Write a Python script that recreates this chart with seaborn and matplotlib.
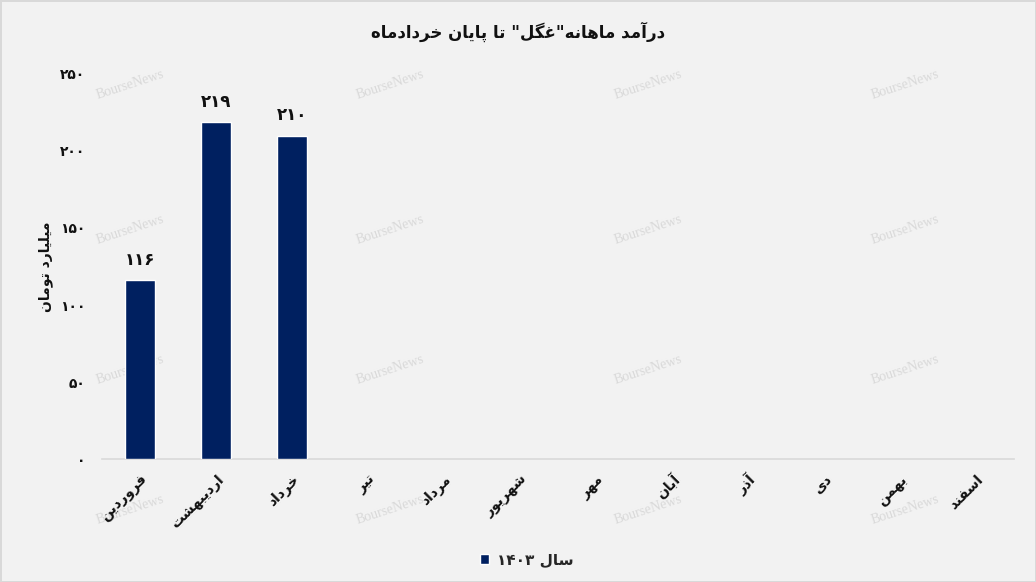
import matplotlib
matplotlib.use("Agg")
import matplotlib.pyplot as plt
import matplotlib.transforms as mtrans
import seaborn as sns
import pandas as pd

# data
months = ["فروردین", "اردیبهشت", "خرداد", "تیر", "مرداد", "شهریور",
          "مهر", "آبان", "آذر", "دی", "بهمن", "اسفند"]
values = [116, 219, 210]
y_ticks = [0, 50, 100, 150, 200, 250]
title_text = 'درآمد ماهانه"غگل" تا پایان خردادماه'
ylabel_text = "میلیارد تومان"
legend_text = "سال 1403"

# isolated, final, initial, medial
FORMS = {
    "ا": ("\uFE8D", "\uFE8E", None, None),
    "آ": ("\uFE81", "\uFE82", None, None),
    "ب": ("\uFE8F", "\uFE90", "\uFE91", "\uFE92"),
    "پ": ("\uFB56", "\uFB57", "\uFB58", "\uFB59"),
    "ت": ("\uFE95", "\uFE96", "\uFE97", "\uFE98"),
    "خ": ("\uFEA5", "\uFEA6", "\uFEA7", "\uFEA8"),
    "د": ("\uFEA9", "\uFEAA", None, None),
    "ذ": ("\uFEAB", "\uFEAC", None, None),
    "ر": ("\uFEAD", "\uFEAE", None, None),
    "س": ("\uFEB1", "\uFEB2", "\uFEB3", "\uFEB4"),
    "ش": ("\uFEB5", "\uFEB6", "\uFEB7", "\uFEB8"),
    "غ": ("\uFECD", "\uFECE", "\uFECF", "\uFED0"),
    "ف": ("\uFED1", "\uFED2", "\uFED3", "\uFED4"),
    "گ": ("\uFB92", "\uFB93", "\uFB94", "\uFB95"),
    "ل": ("\uFEDD", "\uFEDE", "\uFEDF", "\uFEE0"),
    "م": ("\uFEE1", "\uFEE2", "\uFEE3", "\uFEE4"),
    "ن": ("\uFEE5", "\uFEE6", "\uFEE7", "\uFEE8"),
    "ه": ("\uFEE9", "\uFEEA", "\uFEEB", "\uFEEC"),
    "و": ("\uFEED", "\uFEEE", None, None),
    "ی": ("\uFBFC", "\uFBFD", "\uFBFE", "\uFBFF"),
}
FA_DIGITS = str.maketrans("0123456789", "۰۱۲۳۴۵۶۷۸۹")


def fa_num(n):
    return str(n).translate(FA_DIGITS)


def shape_word(s):
    out = []
    for i, ch in enumerate(s):
        if ch not in FORMS:
            out.append(ch)
            continue
        prev = s[i - 1] if i > 0 else ""
        nxt = s[i + 1] if i + 1 < len(s) else ""
        join_prev = prev in FORMS and FORMS[prev][2] is not None
        join_next = FORMS[ch][2] is not None and nxt in FORMS
        f = FORMS[ch]
        if join_prev and join_next:
            out.append(f[3])
        elif join_prev:
            out.append(f[1])
        elif join_next:
            out.append(f[2])
        else:
            out.append(f[0])
    return "".join(out)


def fa(text):
    # shape letters, then lay out right-to-left; digit runs keep their order
    text = text.translate(FA_DIGITS)
    shaped = shape_word(text)
    runs, cur, cur_digit = [], "", None
    for ch in shaped:
        d = ch in "۰۱۲۳۴۵۶۷۸۹"
        if cur and d != cur_digit:
            runs.append((cur, cur_digit))
            cur = ""
        cur += ch
        cur_digit = d
    if cur:
        runs.append((cur, cur_digit))
    return "".join(r if d else r[::-1] for r, d in reversed(runs))


sns.set_theme(style="white")
plt.rcParams["font.family"] = ["DejaVu Sans"]

BG = "#f2f2f2"
NAVY = "#002060"
INK = "#111111"

fig = plt.figure(figsize=(10.36, 5.82), dpi=100, facecolor=BG,
                 edgecolor="#d9d9d9", linewidth=2)
ax = fig.add_axes([0.0985, 0.2113, 0.8803, 0.6616])
ax.set_facecolor("none")

# watermarks (behind the axes)
for fx in [130, 390, 648, 905]:
    for fy in [85, 230, 370, 510]:
        fig.text(fx / 1036, 1 - fy / 582, "BourseNews", color="#d9d9d9",
                 fontsize=10, family="Liberation Serif", rotation=18,
                 ha="center", va="center", zorder=-1)

shaped_months = [fa(m) for m in months]
df = pd.DataFrame({"month": shaped_months[:len(values)], "value": values,
                   "year": fa(legend_text)})

sns.barplot(data=df, x="month", y="value", hue="year", order=shaped_months,
            palette=[NAVY], saturation=1, width=0.4, ax=ax, zorder=3)

ax.bar_label(ax.containers[0], labels=[fa_num(v) for v in values],
             padding=8, fontsize=12, fontweight="bold", color=INK)

ax.set_ylim(0, 250)
ax.set_xlim(-0.5, len(months) - 0.5)
ax.set_yticks(y_ticks)
ax.set_yticklabels([fa_num(v) for v in y_ticks], fontsize=10,
                   fontweight="bold", color=INK)
ax.tick_params(axis="y", length=0, pad=12)

ax.set_xticks(range(len(months)))
ax.set_xticklabels(shaped_months, rotation=45, ha="right", va="center",
                   rotation_mode="anchor", fontsize=10, fontweight="bold",
                   color=INK)
ax.tick_params(axis="x", which="major", length=0, pad=13)
shift = mtrans.ScaledTranslation(5 / 100, 0, fig.dpi_scale_trans)
for lbl in ax.get_xticklabels():
    lbl.set_transform(lbl.get_transform() + shift)
ax.set_xticks([i - 0.5 for i in range(len(months) + 1)], minor=True)
ax.tick_params(axis="x", which="minor", length=5, color="#d9d9d9", width=1.2)

for s in ["top", "right", "left"]:
    ax.spines[s].set_visible(False)
ax.spines["bottom"].set_color("#d9d9d9")
ax.spines["bottom"].set_linewidth(1.2)

ax.set_xlabel("")
ax.set_ylabel(fa(ylabel_text), fontsize=10, fontweight="bold", color=INK)
ax.yaxis.set_label_coords((53 - 102) / 912, 0.5)

handles, labels = ax.get_legend_handles_labels()
ax.legend(handles, labels, loc="center", bbox_to_anchor=(527 / 1036, 1 - 560 / 582),
          bbox_transform=fig.transFigure, frameon=False, handlelength=0.6,
          handleheight=0.6, handletextpad=0.5,
          prop={"size": 11, "weight": "bold"})

fig.text(0.5, 1 - 32 / 582, fa(title_text), ha="center", va="center",
         fontsize=12, fontweight="bold", color=INK)

fig.savefig("out.png", dpi=100, facecolor=fig.get_facecolor(),
            edgecolor=fig.get_edgecolor())
